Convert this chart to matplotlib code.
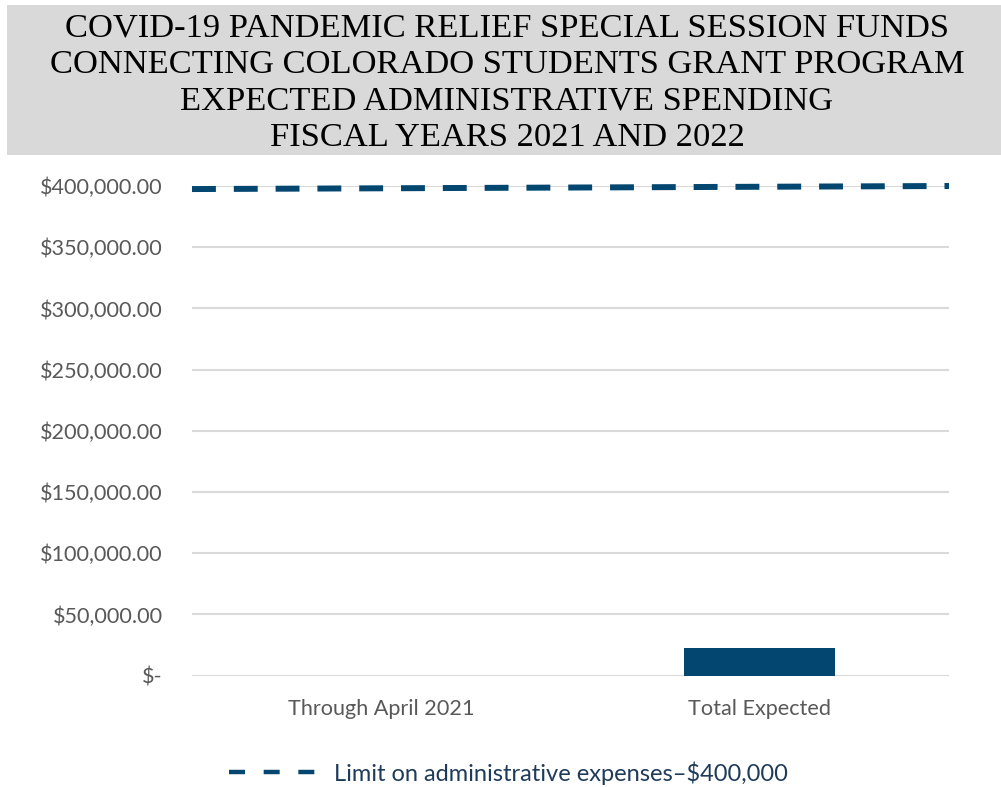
import matplotlib.pyplot as plt
from matplotlib.lines import Line2D
from matplotlib.patches import Rectangle
from matplotlib.ticker import FuncFormatter

categories = ['Through April 2021', 'Total Expected']
spending = [0, 22500]
limit_x = [-0.5, 1.5]
limit_y = [397500, 400000]
yticks = [0, 50000, 100000, 150000, 200000, 250000, 300000, 350000, 400000]
title_lines = [
    'COVID-19 PANDEMIC RELIEF SPECIAL SESSION FUNDS',
    'CONNECTING COLORADO STUDENTS GRANT PROGRAM',
    'EXPECTED ADMINISTRATIVE SPENDING',
    'FISCAL YEARS 2021 AND 2022',
]
legend_label = 'Limit on administrative expenses\u2013$400,000'

navy = '#03466f'
grey_text = '#595959'

fig = plt.figure(figsize=(10.01, 7.87), dpi=100)

# grey title band
fig.patches.append(Rectangle((7 / 1001, 1 - 155 / 787), 1, 150 / 787,
                             transform=fig.transFigure, facecolor='#d9d9d9',
                             edgecolor='none', zorder=0))
for i, line in enumerate(title_lines):
    fig.text(507 / 1001, 1 - (28 + i * 36.5) / 787, line, ha='center', va='center',
             fontsize=24.8, family='Liberation Serif', color='black')

ax = fig.add_axes([192 / 1001, 1 - 675.7 / 787, 757 / 1001, 489.7 / 787])
x = range(len(categories))
ax.bar(x, spending, width=0.4, color=navy, zorder=3)
ax.plot(limit_x, limit_y, color=navy, lw=4.3, linestyle=(0, (4, 3)),
        dash_capstyle='butt', clip_on=False, zorder=4)

ax.set_xlim(-0.5, 1.5)
ax.set_ylim(0, 400000)
ax.set_yticks(yticks)
ax.yaxis.set_major_formatter(FuncFormatter(
    lambda v, p: '$-' if v == 0 else '${:,.2f}'.format(v)))
ax.set_xticks(list(x))
ax.set_xticklabels(categories)
ax.grid(axis='y', color='#d9d9d9', lw=1.5, zorder=0)
ax.set_axisbelow(True)
for s in ax.spines.values():
    s.set_visible(False)
ax.tick_params(length=0, labelsize=15.6, labelcolor=grey_text)
ax.tick_params(axis='y', pad=21)
ax.tick_params(axis='x', pad=17)
for lab in ax.get_xticklabels() + ax.get_yticklabels():
    lab.set_family('Lato')

handle = Line2D([], [], color=navy, lw=3.2, linestyle=(0, (3.6, 4.2)),
                dash_capstyle='butt')
fig.legend([handle], [legend_label], loc='center', bbox_to_anchor=(508 / 1001, 1 - 773 / 787),
           frameon=False, handlelength=3.65, handletextpad=0.8,
           prop={'family': 'Lato', 'size': 17}, labelcolor='#1f3b5a')

fig.savefig('out.png', dpi=100)
